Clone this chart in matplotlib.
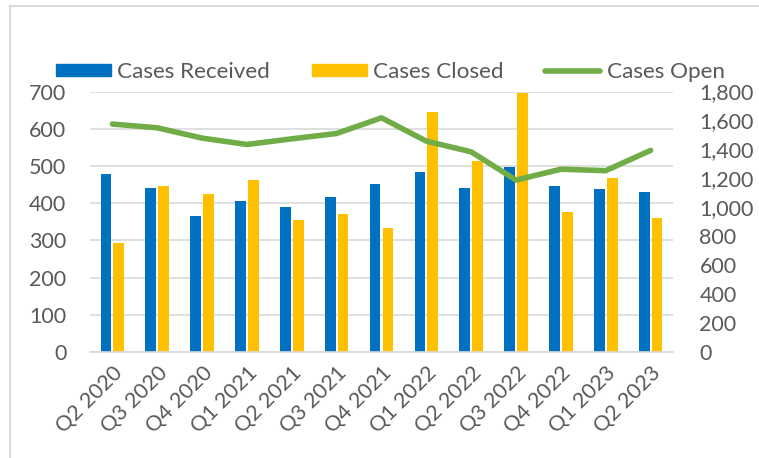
import matplotlib.pyplot as plt
import numpy as np
from matplotlib.patches import Rectangle, Patch
from matplotlib.lines import Line2D
from matplotlib.ticker import FuncFormatter

quarters = ["Q2 2020", "Q3 2020", "Q4 2020", "Q1 2021", "Q2 2021", "Q3 2021", "Q4 2021",
            "Q1 2022", "Q2 2022", "Q3 2022", "Q4 2022", "Q1 2023", "Q2 2023"]
received = [477, 441, 365, 405, 390, 416, 452, 483, 441, 497, 446, 437, 431]
closed = [293, 446, 425, 462, 355, 370, 334, 645, 513, 697, 375, 467, 360]
open_cases = [1575, 1549, 1478, 1434, 1473, 1510, 1618, 1457, 1383, 1188, 1263, 1253, 1393]

plt.rcParams['font.family'] = ['Lato', 'DejaVu Sans']
txt = "#595959"
fs = 15.5

fig = plt.figure(figsize=(7.59, 4.58), dpi=100)
ax = fig.add_axes([90 / 759, 1 - 352 / 458, (673 - 90) / 759, (352 - 91.5) / 458])
ax2 = ax.twinx()

x = np.arange(len(quarters))
w = 0.24
ax.bar(x - 0.143, received, w, color="#0070C0", zorder=2)
ax.bar(x + 0.143, closed, w, color="#FFC000", zorder=2)
ax2.plot(x, open_cases, color="#70AD47", lw=4, solid_capstyle="round", zorder=3)

ax.set_xlim(-0.5, len(quarters) - 0.5)
ax.set_ylim(0, 700)
ax.set_yticks(range(0, 701, 100))
ax2.set_ylim(0, 1800)
ax2.set_yticks(range(0, 1801, 200))
ax2.yaxis.set_major_formatter(FuncFormatter(lambda v, p: f"{int(v):,}"))

ax.grid(axis="y", color="#D9D9D9", lw=1.2, zorder=0)
ax.set_axisbelow(True)
for a in (ax, ax2):
    for s in a.spines.values():
        s.set_visible(False)
ax.spines["bottom"].set_visible(True)
ax.spines["bottom"].set_color("#D9D9D9")
ax.spines["bottom"].set_linewidth(1.2)

ax.set_xticks(x)
ax.set_xticklabels(quarters, rotation=45, ha="right", rotation_mode="anchor")
ax.tick_params(axis="x", length=0, pad=8, labelsize=fs, labelcolor=txt)
ax.tick_params(axis="y", length=0, pad=17, labelsize=fs, labelcolor=txt)
ax2.tick_params(axis="y", length=0, pad=19, labelsize=fs, labelcolor=txt)

handles = [Patch(color="#0070C0"), Patch(color="#FFC000"),
           Line2D([0], [0], color="#70AD47", lw=4, solid_capstyle="round")]
fig.legend(handles, ["Cases Received", "Cases Closed", "Cases Open"],
           loc="center left", bbox_to_anchor=(56 / 759, 1 - 72 / 458), ncol=3,
           frameon=False, fontsize=16.2, labelcolor=txt, borderpad=0, borderaxespad=0,
           handlelength=2.45, handleheight=0.45, handletextpad=0.28, columnspacing=1.85)

fig.patches.append(Rectangle((10 / 759, -0.2), 1.2, 1.2 - 6 / 458, transform=fig.transFigure,
                             fill=False, edgecolor="#D9D9D9", lw=1.5))

fig.savefig("out.png", dpi=100)
